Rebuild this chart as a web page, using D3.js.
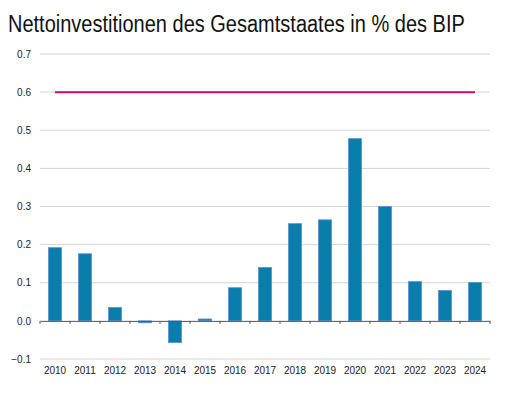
<!DOCTYPE html>
<html>
<head>
<meta charset="utf-8">
<script src="https://cdnjs.cloudflare.com/ajax/libs/d3/7.8.5/d3.min.js"></script>
<style>
  body { margin: 0; background: #fff; }
  svg { font-family: "Liberation Sans", Arial, sans-serif; }
</style>
</head>
<body>
<svg id="chart" width="506" height="396"></svg>
<script>
// data
var years = ['2010','2011','2012','2013','2014','2015','2016','2017','2018','2019','2020','2021','2022','2023','2024'];
var values = [0.192, 0.176, 0.035, -0.005, -0.057, 0.005, 0.087, 0.140, 0.255, 0.265, 0.478, 0.300, 0.103, 0.080, 0.101];
var target = 0.6;
var yTicks = [-0.1, 0.0, 0.1, 0.2, 0.3, 0.4, 0.5, 0.6, 0.7];

var svg = d3.select('#chart');
var plotLeft = 40, plotRight = 490, plotTop = 54, plotBottom = 359;

var x = d3.scaleBand().domain(years).range([plotLeft, plotRight]).paddingInner(0).paddingOuter(0);
var y = d3.scaleLinear().domain([-0.1, 0.7]).range([plotBottom, plotTop]);

// title, squeezed horizontally to the narrow face of the original
var title = svg.append('text')
  .attr('x', 0).attr('y', 0)
  .attr('font-size', 23)
  .attr('fill', '#111')
  .text('Nettoinvestitionen des Gesamtstaates in % des BIP');
var natural = title.node().getComputedTextLength();
title.attr('transform', 'translate(8,32) scale(' + (457 / natural) + ',1)');

// grid
svg.append('g').selectAll('line').data(yTicks.filter(function(d) { return d !== 0; })).enter()
  .append('line')
  .attr('x1', plotLeft).attr('x2', plotRight)
  .attr('y1', function(d) { return y(d); }).attr('y2', function(d) { return y(d); })
  .attr('stroke', '#d4d4d4').attr('stroke-width', 1);

// y labels
var yAxis = d3.axisLeft(y).tickValues(yTicks).tickFormat(d3.format('.1f')).tickSize(0).tickPadding(0);
var gy = svg.append('g').attr('transform', 'translate(31,0)').call(yAxis);
gy.select('.domain').remove();
gy.selectAll('text').attr('font-size', 10).attr('fill', '#222')
  .attr('font-family', '"Liberation Sans", Arial, sans-serif');

// bars
svg.append('g').selectAll('rect').data(values).enter()
  .append('rect')
  .attr('x', function(d, i) { return x(years[i]) + x.bandwidth() / 2 - 6.5; })
  .attr('width', 13)
  .attr('y', function(d) { return y(Math.max(0, d)); })
  .attr('height', function(d) { return Math.abs(y(d) - y(0)); })
  .attr('fill', '#0a7eaa')
  .attr('stroke', '#5d8fd8').attr('stroke-width', 0.8);

// x axis at zero
var xAxis = d3.axisBottom(x).tickSize(0).tickFormat('');
var gx = svg.append('g').attr('transform', 'translate(0,' + y(0) + ')').call(xAxis);
gx.select('.domain').attr('stroke', '#555').attr('stroke-width', 1);
var bounds = years.map(function(d) { return x(d); }).concat([plotRight]);
gx.selectAll('line.tk').data(bounds).enter()
  .append('line').attr('class', 'tk')
  .attr('x1', function(d) { return d; }).attr('x2', function(d) { return d; })
  .attr('y1', 0).attr('y2', 3)
  .attr('stroke', '#555');

// x labels
svg.append('g').selectAll('text').data(years).enter()
  .append('text')
  .attr('x', function(d) { return x(d) + x.bandwidth() / 2; })
  .attr('y', 374)
  .attr('text-anchor', 'middle')
  .attr('font-size', 10)
  .attr('fill', '#222')
  .text(function(d) { return d; });

// target line
svg.append('line')
  .attr('x1', x(years[0]) + x.bandwidth() / 2)
  .attr('x2', x(years[years.length - 1]) + x.bandwidth() / 2)
  .attr('y1', y(target)).attr('y2', y(target))
  .attr('stroke', '#c8097e').attr('stroke-width', 2);
</script>
</body>
</html>
